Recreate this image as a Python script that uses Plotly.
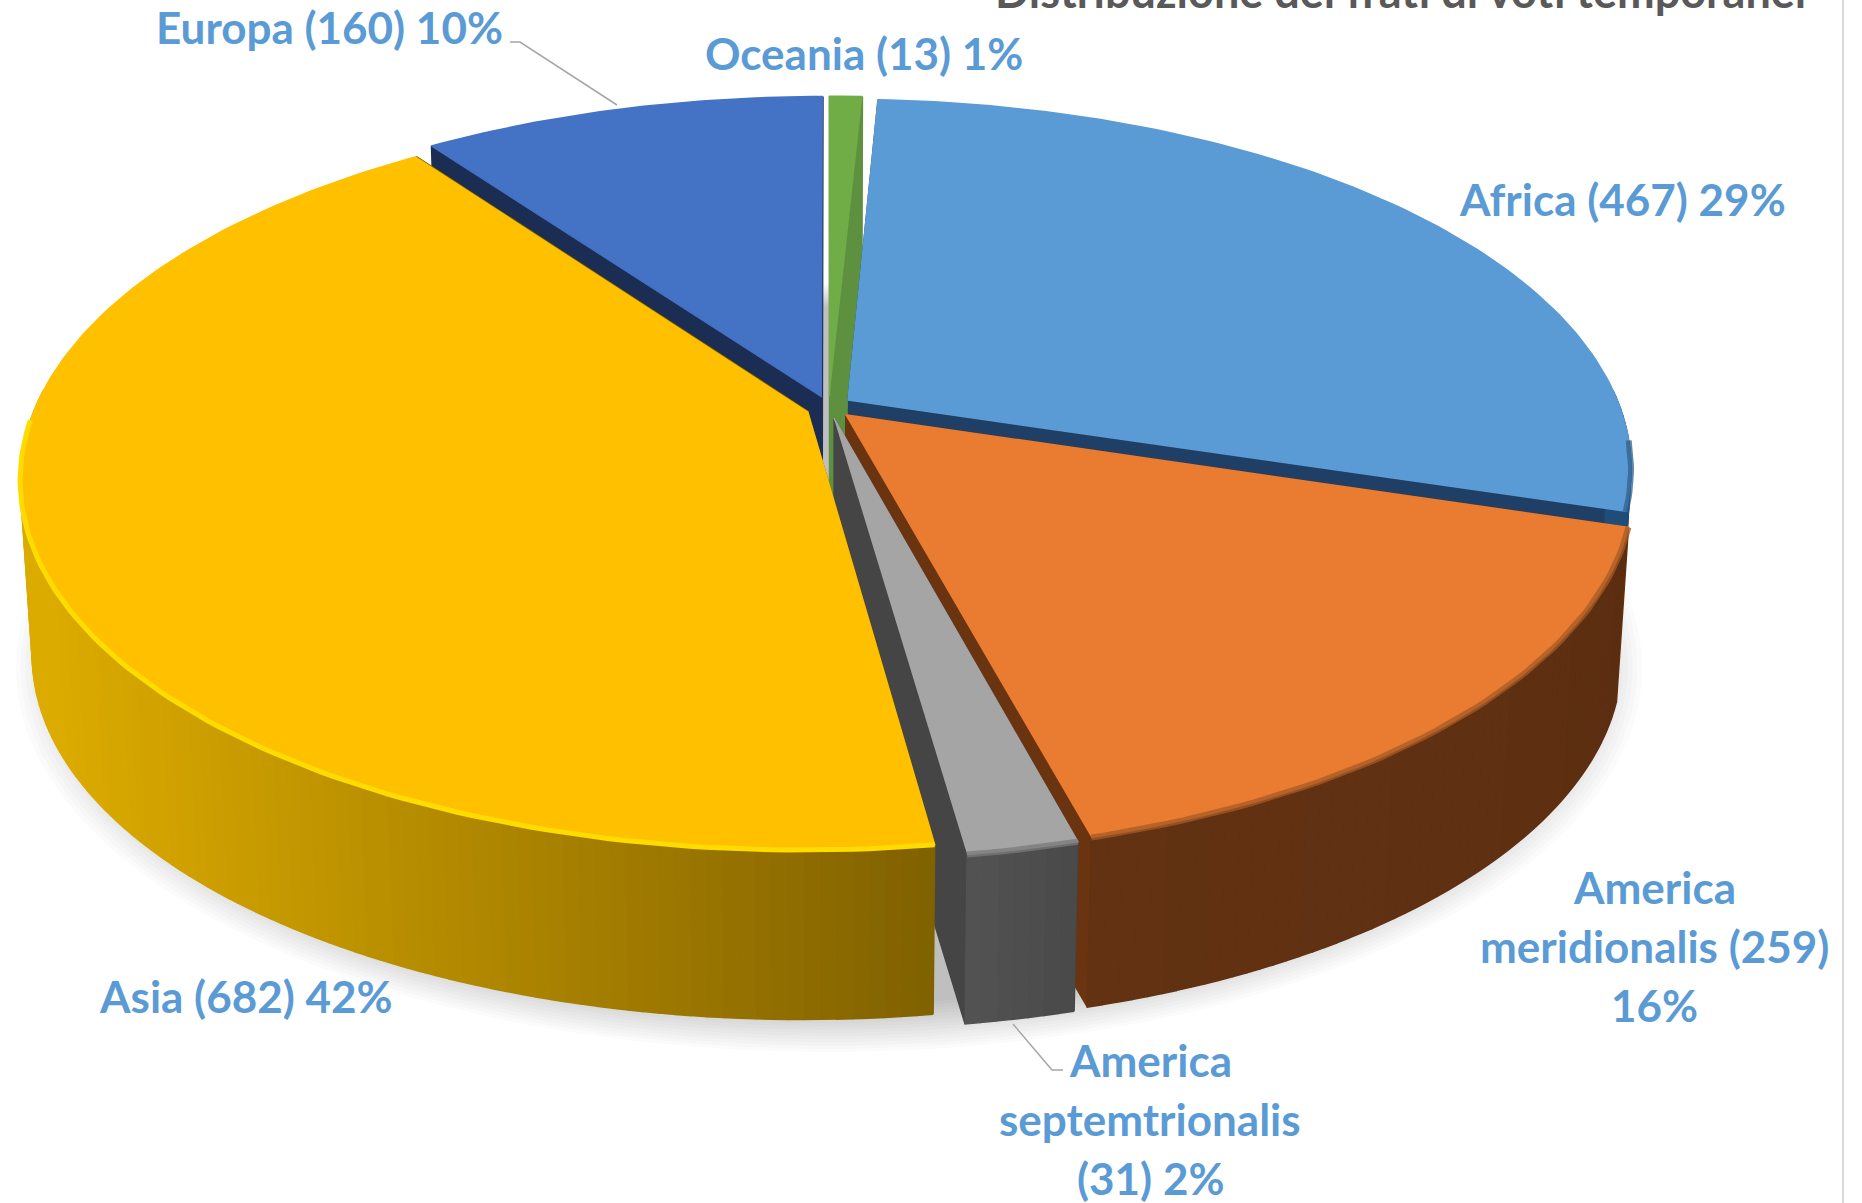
import numpy as np
import plotly.graph_objects as go

# ---- data ----
categories = ["Africa", "America meridionalis", "America septemtrionalis", "Asia", "Europa", "Oceania"]
values = [467, 259, 31, 682, 160, 13]
title_text = "Distribuzione dei frati di voti temporanei"

# ---- styles ----
top_colors = ["#5B9BD5", "#E97C30", "#A5A5A5", "#FFC000", "#4472C4", "#70AD47"]
wall_colors = ["#1F3F66", "#6B3410", "#454545", "#7F6000", "#1B2D52", "#5D9140"]
side_right = ["#1F4E79", "#5C2E11", "#4A4A4A", "#7F6000", "#2A4680", "#4F7F30"]
side_left = ["#1F4E79", "#623212", "#525252", "#DCAB00", "#2A4680", "#4F7F30"]
rim_colors = ["#2F5F8C", "#A55A26", "#7A7A7A", "#FFDC00", None, None]
rim_limit = [-0.08, 0.12, 0.12, -0.02, 0.12, 0.12]
label_lines = [
    ["Africa (467) 29%"],
    ["America", "meridionalis (259)", "16%"],
    ["America", "septemtrionalis", "(31) 2%"],
    ["Asia (682) 42%"],
    ["Europa (160) 10%"],
    ["Oceania (13) 1%"],
]
label_pos = [(1622, 199), (1654, 887), (1150, 1060), (246, 996), (329, 27), (864, 53)]
LINE_H = 59
LABEL_BLUE = "#5B9BD5"
FONT = "Lato"
FS = 44

# ---- projection of the tilted disc ----
CX, CY = 829, 407
A, B, K = 772, 358, 0.181
EXPLODE = 0.03
DEPTH, SHRINK = 176, 0.985
START = 2.9  # degrees clockwise from 12 o'clock
SIDE_X0, SIDE_X1 = 948, 48


def project(u, v, bottom=False):
    w = 1 + K * v
    s = SHRINK if bottom else 1.0
    return CX + s * A * u / w, CY - s * B * v / w + (DEPTH if bottom else 0)


def mix(c1, c2, t):
    t = min(1.0, max(0.0, t))
    a = [int(c1[i:i + 2], 16) for i in (1, 3, 5)]
    b = [int(c2[i:i + 2], 16) for i in (1, 3, 5)]
    return "#%02X%02X%02X" % tuple(round(x + (y - x) * t) for x, y in zip(a, b))


fig = go.Figure()


def poly(xs, ys, color):
    fig.add_trace(go.Scatter(x=list(xs), y=list(ys), mode="lines", fill="toself", fillcolor=color,
                             line=dict(color=color, width=1.5), hoverinfo="skip", showlegend=False))


# ground shadow: stacked translucent discs
th = np.radians(np.linspace(0, 360, 241))
for i in range(16):
    g = 1.05 - i * 0.006
    sx, sy = project(g * np.sin(th), g * np.cos(th), bottom=True)
    fig.add_trace(go.Scatter(x=sx, y=sy + 12, mode="lines", fill="toself", fillcolor="rgba(0,0,0,0.016)",
                             line=dict(width=0), hoverinfo="skip", showlegend=False))

total = sum(values)
fracs = [v / total * 360 for v in values]
edges = START + np.concatenate([[0], np.cumsum(fracs)])
draw_order = [4, 5, 0, 1, 2, 3]  # back to front

for idx in draw_order:
    a0, a1 = edges[idx], edges[idx + 1]
    mid = np.radians((a0 + a1) / 2)
    ou, ov = EXPLODE * np.sin(mid), EXPLODE * np.cos(mid)
    ang = np.radians(np.linspace(a0, a1, max(3, int((a1 - a0) / 1.0) + 2)))
    u, v = ou + np.sin(ang), ov + np.cos(ang)
    # radial walls
    for e in (0, -1):
        tx, ty = project(np.array([ou, u[e]]), np.array([ov, v[e]]))
        bx, by = project(np.array([ou, u[e]]), np.array([ov, v[e]]), bottom=True)
        poly([tx[0], tx[1], bx[1], bx[0]], [ty[0], ty[1], by[1], by[0]], wall_colors[idx])
    # outer wall as shaded strips (front-facing part only)
    tx, ty = project(u, v)
    bx, by = project(u, v, bottom=True)
    for j in range(len(ang) - 1):
        if v[j] + v[j + 1] > 0.1:
            continue
        t = (SIDE_X0 - (tx[j] + tx[j + 1]) / 2) / (SIDE_X0 - SIDE_X1)
        if idx != 3:
            t = j / max(1, len(ang) - 2)
        poly([tx[j], tx[j + 1], bx[j + 1], bx[j]], [ty[j], ty[j + 1], by[j + 1], by[j]],
             mix(side_right[idx], side_left[idx], t))
    # top surface
    px, py = project(np.r_[ou, u], np.r_[ov, v])
    poly(px, py, top_colors[idx])
    # bevel on the front rim
    if rim_colors[idx]:
        keep = v < rim_limit[idx]
        fig.add_trace(go.Scatter(x=tx[keep], y=ty[keep], mode="lines",
                                 line=dict(color=rim_colors[idx], width=5 if idx == 3 else 6),
                                 opacity=1 if idx == 3 else 0.75,
                                 hoverinfo="skip", showlegend=False))

# leader lines
leaders = [([510, 520, 617], [42, 42, 105]), ([1013, 1052, 1063], [1024, 1070, 1070])]
for lx, ly in leaders:
    fig.add_trace(go.Scatter(x=lx, y=ly, mode="lines", line=dict(color="#A6A6A6", width=1.5),
                             hoverinfo="skip", showlegend=False))

annotations = []
for lines, (lx, ly) in zip(label_lines, label_pos):
    for i, line in enumerate(lines):
        annotations.append(dict(x=lx, y=ly + i * LINE_H, text=line, showarrow=False, xref="x", yref="y",
                                xanchor="center", yanchor="middle",
                                font=dict(family=FONT, size=FS, color=LABEL_BLUE, weight="bold")))
annotations.append(dict(x=1400, y=1 + 9 / 1203, text=title_text, showarrow=False, xref="x", yref="paper",
                        xanchor="center", yanchor="middle",
                        font=dict(family=FONT, size=45, color="#595959", weight="bold")))

fig.update_layout(
    width=1862, height=1203, autosize=False,
    margin=dict(l=0, r=0, t=0, b=0),
    paper_bgcolor="white", plot_bgcolor="white", showlegend=False,
    xaxis=dict(range=[0, 1862], visible=False, fixedrange=True),
    yaxis=dict(range=[1203, 0], visible=False, fixedrange=True),
    annotations=annotations,
    shapes=[dict(type="line", x0=1843, x1=1843, y0=0, y1=1203, xref="x", yref="y",
                 line=dict(color="#D9D9D9", width=2))],
)
fig.write_html("out.html", config={"displayModeBar": False},
               post_script="document.body.style.margin='0';document.body.style.overflow='hidden';")
